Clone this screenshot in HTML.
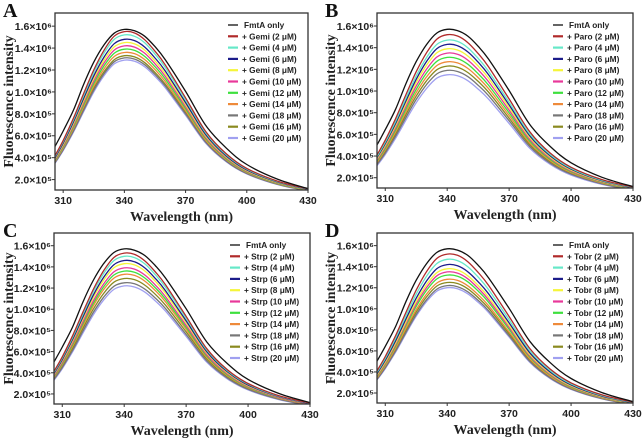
<!DOCTYPE html>
<html><head><meta charset="utf-8">
<style>
html,body{margin:0;padding:0;background:#fff;}
svg{display:block;}
.tick{font:bold 10.5px "Liberation Sans",sans-serif;fill:#222;}
.ttl{font:bold 14px "Liberation Serif",serif;fill:#222;}
.leg{font:bold 8.3px "Liberation Sans",sans-serif;fill:#222;}
.lab{font:bold 20px "Liberation Serif",serif;fill:#111;}
</style></head>
<body>
<svg id="chart" width="644" height="439" viewBox="0 0 644 439"></svg>
<script>
const wavelengths = [306,310,315,320,325,330,335,340,345,350,355,360,370,380,390,400,415,430];
const blackProfile = [0.32,0.41,0.53,0.68,0.81,0.91,0.978,1,0.992,0.96,0.90,0.825,0.64,0.44,0.31,0.215,0.13,0.075];
const colorProfile = [0.27,0.36,0.49,0.635,0.775,0.89,0.973,1,0.992,0.952,0.885,0.805,0.61,0.41,0.28,0.195,0.12,0.075];
const concLabels = ["FmtA only","2","4","6","8","10","12","14","18","16","20"];
const seriesColors = ["#111","#b02a2a","#66e8c8","#1c1c8a","#f5f53a","#e8389a","#3ee03e","#ee8a3a","#777","#8a8a20","#a0a0f0"];
const peaksA = [1.57,1.55,1.52,1.48,1.45,1.42,1.39,1.36,1.31,1.33,1.29];
const peaksB = [1.57,1.52,1.47,1.43,1.39,1.35,1.31,1.27,1.19,1.23,1.15];
const peaksC = [1.57,1.53,1.50,1.46,1.43,1.39,1.36,1.33,1.25,1.29,1.22];
const peaksD = [1.57,1.52,1.47,1.42,1.38,1.35,1.32,1.28,1.22,1.25,1.20];
const xTicks = [310,340,370,400,430];
const yTicks = [2,4,6,8,10,12,14,16];
const yTickLabels = ["2.0\u00d710\u2075","4.0\u00d710\u2075","6.0\u00d710\u2075","8.0\u00d710\u2075","1.0\u00d710\u2076","1.2\u00d710\u2076","1.4\u00d710\u2076","1.6\u00d710\u2076"];

const NS="http://www.w3.org/2000/svg";
const svg=document.getElementById('chart');
function mk(tag,attrs,parent){const e=document.createElementNS(NS,tag);for(const k in attrs)e.setAttribute(k,attrs[k]);(parent||svg).appendChild(e);return e;}

const panels=[
 {id:"a",letter:"A",drug:"Gemi",peaks:peaksA,x:55,y:13,w:253,h:177,tx:0,ty:0},
 {id:"b",letter:"B",drug:"Paro",peaks:peaksB,x:377,y:13,w:256,h:175,tx:322,ty:0},
 {id:"c",letter:"C",drug:"Strp",peaks:peaksC,x:54,y:233,w:256,h:171,tx:0,ty:220},
 {id:"d",letter:"D",drug:"Tobr",peaks:peaksD,x:377,y:233,w:256,h:170,tx:322,ty:220}
];
const xMin=306,xMax=430,yMin=1.05e5,yMax=1.72e6;

function smoothPath(pts){
 let d="M"+pts[0][0].toFixed(1)+","+pts[0][1].toFixed(1);
 for(let i=0;i<pts.length-1;i++){
  const p0=pts[Math.max(0,i-1)],p1=pts[i],p2=pts[i+1],p3=pts[Math.min(pts.length-1,i+2)];
  const c1x=p1[0]+(p2[0]-p0[0])/6,c1y=p1[1]+(p2[1]-p0[1])/6;
  const c2x=p2[0]-(p3[0]-p1[0])/6,c2y=p2[1]-(p3[1]-p1[1])/6;
  d+=" C"+c1x.toFixed(1)+","+c1y.toFixed(1)+" "+c2x.toFixed(1)+","+c2y.toFixed(1)+" "+p2[0].toFixed(1)+","+p2[1].toFixed(1);
 }
 return d;
}

panels.forEach(p=>{
 const g=mk('g',{});
 
 
 const sx=v=>p.x+(v-xMin)/(xMax-xMin)*p.w;
 const sy=v=>p.y+p.h-(v-yMin)/(yMax-yMin)*p.h;
 const clipId="clip"+p.id;
 const cp=mk('clipPath',{id:clipId},g);
 mk('rect',{x:p.x,y:p.y,width:p.w,height:p.h},cp);
 const lt=mk('text',{x:p.tx+3,y:p.ty+17,class:'lab'},g);lt.textContent=p.letter;
 
 const sg=mk('g',{'clip-path':'url(#'+clipId+')'},g);
 for(let s=p.peaks.length-1;s>=0;s--){
  const prof=s===0?blackProfile:colorProfile;
  const pts=wavelengths.map((w,i)=>[sx(w),sy(p.peaks[s]*1e6*prof[i])]);
  const path=mk('path',{d:smoothPath(pts),fill:'none',stroke:seriesColors[s],'stroke-width':1.3},sg);
  
  
 }
 const frame=mk('rect',{x:p.x,y:p.y,width:p.w,height:p.h,fill:'none',stroke:'#333','stroke-width':1.3},g);
 
 xTicks.forEach(t=>{
  mk('line',{x1:sx(t),x2:sx(t),y1:p.y+p.h,y2:p.y+p.h+3,stroke:'#333'},g);
  const tt=mk('text',{x:sx(t),y:p.y+p.h+14,class:'tick','text-anchor':'middle'},g);tt.textContent=t;
  
 });
 yTicks.forEach((t,i)=>{
  const yy=sy(t*1e5);
  mk('line',{x1:p.x-3,x2:p.x,y1:yy,y2:yy,stroke:'#333'},g);
  const tt=mk('text',{x:p.x-3,y:yy+4,class:'tick','text-anchor':'end'},g);tt.textContent=yTickLabels[i];
  
 });
 const xt=mk('text',{x:p.x+p.w/2,y:p.y+p.h+31,class:'ttl','text-anchor':'middle'},g);xt.textContent="Wavelength (nm)";
 
 const cy=p.y+p.h/2;
 const yt=mk('text',{x:p.tx+13,y:cy,class:'ttl','text-anchor':'middle',transform:'rotate(-90 '+(p.tx+13)+' '+cy+')'},g);yt.textContent="Fluorescence intensity";
 
 const lx=p.x+p.w-80, ly=p.y+12;
 concLabels.forEach((c,i)=>{
  const yy=ly+i*11.3;
  const le=mk('g',{},g);
  
  
  mk('line',{x1:lx,x2:lx+10,y1:yy,y2:yy,stroke:seriesColors[i],'stroke-width':i===0?1.3:2.2},le);
  const tx=mk('text',{x:lx+(i===0?16:14),y:yy+3,class:'leg'},le);
  tx.textContent=i===0?"FmtA only":"+ "+p.drug+" ("+c+" \u03bcM)";
 });
});
</script>
</body></html>
